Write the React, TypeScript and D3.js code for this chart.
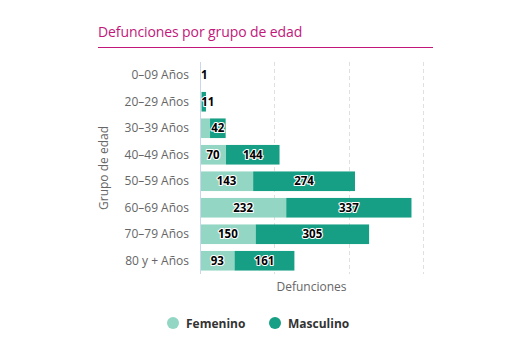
import React, { useEffect, useRef } from 'react';
import * as d3 from 'd3';

const categories = ['0–09 Años', '20–29 Años', '30–39 Años', '40–49 Años', '50–59 Años', '60–69 Años', '70–79 Años', '80 y + Años'];
const femenino = [0, 5, 27, 70, 143, 232, 150, 93];
const masculino = [1, 11, 42, 144, 274, 337, 305, 161];
const xTicks = [0, 200, 400, 600];

const colors = { Femenino: '#93d6c3', Masculino: '#169f84' };
const font = '"Open Sans", "Noto Sans", sans-serif';

const App = () => {
    const ref = useRef<SVGSVGElement>(null);

    useEffect(() => {
        const svg = d3.select(ref.current);
        svg.selectAll('*').remove();

        const left = 200, right = 423, top = 62, bottom = 274;

        const x = d3.scaleLinear().domain([0, 600]).range([left, right]);
        const y = d3.scaleBand().domain(categories).range([top, bottom]).paddingInner(0.26).paddingOuter(0.13);

        // title
        svg.append('text')
            .attr('x', 98).attr('y', 37)
            .attr('font-family', font).attr('font-size', 14)
            .attr('letter-spacing', -0.1)
            .attr('fill', '#c2177a')
            .text('Defunciones por grupo de edad');
        svg.append('line')
            .attr('x1', 98).attr('x2', 433).attr('y1', 47.5).attr('y2', 47.5)
            .attr('stroke', '#c2177a').attr('stroke-width', 1);

        // grid
        svg.append('g').selectAll('line')
            .data(xTicks.slice(1))
            .enter().append('line')
            .attr('x1', d => Math.round(x(d)) + 0.5).attr('x2', d => Math.round(x(d)) + 0.5)
            .attr('y1', top).attr('y2', bottom)
            .attr('stroke', '#e0e0e0').attr('stroke-dasharray', '4,3');

        // bars
        const rows = categories.map((c, i) => ({ c, f: femenino[i], m: masculino[i] }));
        const g = svg.append('g');
        g.selectAll('.fem')
            .data(rows)
            .enter().append('rect')
            .attr('x', x(0))
            .attr('y', d => y(d.c))
            .attr('width', d => x(d.f) - x(0))
            .attr('height', y.bandwidth())
            .attr('fill', colors.Femenino);
        g.selectAll('.mas')
            .data(rows)
            .enter().append('rect')
            .attr('x', d => x(d.f))
            .attr('y', d => y(d.c))
            .attr('width', d => x(d.f + d.m) - x(d.f))
            .attr('height', y.bandwidth())
            .attr('fill', colors.Masculino);

        // axis line
        svg.append('line')
            .attr('x1', left + 0.5).attr('x2', left + 0.5).attr('y1', top).attr('y2', bottom)
            .attr('stroke', '#ccd6eb');

        // category labels
        svg.append('g').selectAll('text')
            .data(categories)
            .enter().append('text')
            .attr('x', 189)
            .attr('y', d => y(d) + y.bandwidth() / 2 + 4)
            .attr('text-anchor', 'end')
            .attr('font-family', font).attr('font-size', 12)
            .attr('fill', '#666')
            .text(d => d);

        // data labels
        const lbl = svg.append('g')
            .attr('font-family', font).attr('font-size', 11.5).attr('font-weight', 'bold');
        const addLabel = (v: number, x0: number, x1: number, yc: number, force: boolean) => {
            const tw = String(v).length * 6.8;
            if (!force && x1 - x0 < tw + 2) return;
            let cx = (x0 + x1) / 2;
            if (cx - tw / 2 < left + 1) cx = left + 1 + tw / 2;
            lbl.append('text')
                .attr('x', cx).attr('y', yc + 4)
                .attr('text-anchor', 'middle')
                .attr('fill', '#000')
                .attr('stroke', '#fff').attr('stroke-width', 2.2)
                .attr('stroke-linejoin', 'round')
                .attr('paint-order', 'stroke')
                .text(v);
        };
        rows.forEach(d => {
            const yc = y(d.c) + y.bandwidth() / 2;
            if (d.f > 0) addLabel(d.f, x(0), x(d.f), yc, false);
            addLabel(d.m, x(d.f), x(d.f + d.m), yc, true);
        });

        // axis titles
        svg.append('text')
            .attr('x', (left + right) / 2).attr('y', 291)
            .attr('text-anchor', 'middle')
            .attr('font-family', font).attr('font-size', 12)
            .attr('fill', '#666')
            .text('Defunciones');
        svg.append('text')
            .attr('transform', `translate(108,${(top + bottom) / 2}) rotate(-90)`)
            .attr('text-anchor', 'middle')
            .attr('font-family', font).attr('font-size', 12)
            .attr('fill', '#666')
            .text('Grupo de edad');

        // legend
        const legend = [
            { name: 'Femenino', cx: 173, color: colors.Femenino },
            { name: 'Masculino', cx: 275, color: colors.Masculino },
        ];
        const lg = svg.append('g').selectAll('g')
            .data(legend)
            .enter().append('g');
        lg.append('circle')
            .attr('cx', d => d.cx).attr('cy', 323).attr('r', 6)
            .attr('fill', d => d.color);
        lg.append('text')
            .attr('x', d => d.cx + 13).attr('y', 327.5)
            .attr('font-family', font).attr('font-size', 12).attr('font-weight', 'bold')
            .attr('fill', '#333')
            .text(d => d.name);
    }, []);

    return (
        <svg ref={ref} width={529} height={353} style={{ position: 'absolute', left: 0, top: 0 }}></svg>
    );
};

export default App;
